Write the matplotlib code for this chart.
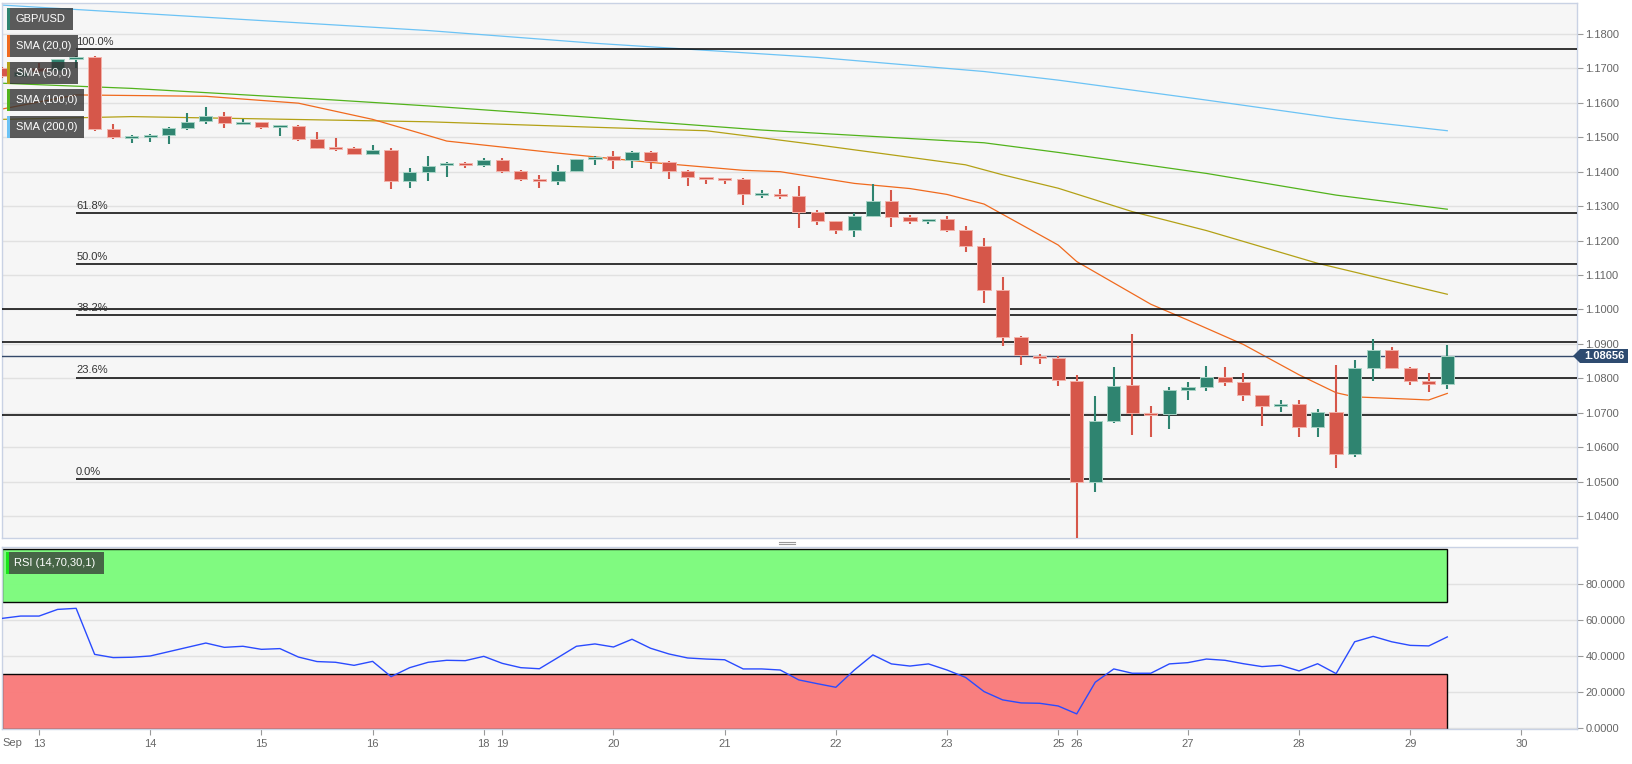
import matplotlib
matplotlib.use("Agg")
import matplotlib.pyplot as plt
from matplotlib.patches import Rectangle, Polygon
from matplotlib.lines import Line2D
import numpy as np

plt.rcParams['font.family'] = ['Liberation Sans', 'DejaVu Sans']

# 4h candles, index 0 = Sep 13 00:00 (weekend gaps removed)
idx = list(range(-2, 77))
opens = [1.1700, 1.1679, 1.1700, 1.1695, 1.1727, 1.1732, 1.1523, 1.1500, 1.1503, 1.1507,
         1.1526, 1.1546, 1.1563, 1.1541, 1.1544, 1.1532, 1.1534, 1.1494, 1.1471, 1.1470,
         1.1452, 1.1463, 1.1373, 1.1398, 1.1419, 1.1425, 1.1420, 1.1434, 1.1402, 1.1379,
         1.1372, 1.1402, 1.1436, 1.1446, 1.1434, 1.1458, 1.1427, 1.1402, 1.1384, 1.1380,
         1.1378, 1.1333, 1.1336, 1.1330, 1.1283, 1.1257, 1.1232, 1.1272, 1.1314, 1.1268,
         1.1258, 1.1263, 1.1231, 1.1183, 1.1056, 1.0920, 1.0865, 1.0859, 1.0793, 1.0499,
         1.0675, 1.0779, 1.0699, 1.0696, 1.0766, 1.0776, 1.0804, 1.0789, 1.0751, 1.0720,
         1.0725, 1.0658, 1.0701, 1.0580, 1.0830, 1.0883, 1.0831, 1.0791, 1.0783]
highs = [1.1705, 1.1700, 1.1715, 1.1728, 1.1736, 1.1736, 1.1539, 1.1507, 1.1510, 1.1531,
         1.1570, 1.1588, 1.1572, 1.1552, 1.1545, 1.1536, 1.1535, 1.1515, 1.1499, 1.1472,
         1.1478, 1.1468, 1.1411, 1.1446, 1.1427, 1.1428, 1.1441, 1.1439, 1.1405, 1.1390,
         1.1420, 1.1437, 1.1447, 1.1460, 1.1460, 1.1460, 1.1431, 1.1405, 1.1386, 1.1382,
         1.1382, 1.1347, 1.1350, 1.1357, 1.1289, 1.1258, 1.1279, 1.1364, 1.1347, 1.1274,
         1.1263, 1.1271, 1.1242, 1.1208, 1.1094, 1.0923, 1.0871, 1.0865, 1.0809, 1.0749,
         1.0833, 1.0929, 1.0720, 1.0774, 1.0788, 1.0836, 1.0833, 1.0815, 1.0752, 1.0737,
         1.0737, 1.0711, 1.0839, 1.0853, 1.0914, 1.0891, 1.0833, 1.0815, 1.0897]
lows = [1.1672, 1.1674, 1.1688, 1.1693, 1.1700, 1.1518, 1.1495, 1.1483, 1.1487, 1.1479,
        1.1520, 1.1538, 1.1526, 1.1539, 1.1523, 1.1505, 1.1488, 1.1467, 1.1461, 1.1450,
        1.1450, 1.1350, 1.1354, 1.1374, 1.1386, 1.1412, 1.1415, 1.1395, 1.1374, 1.1354,
        1.1361, 1.1399, 1.1420, 1.1408, 1.1412, 1.1408, 1.1379, 1.1357, 1.1364, 1.1364,
        1.1303, 1.1325, 1.1321, 1.1237, 1.1245, 1.1219, 1.1210, 1.1267, 1.1239, 1.1249,
        1.1248, 1.1224, 1.1167, 1.1020, 1.0895, 1.0839, 1.0842, 1.0778, 1.0337, 1.0471,
        1.0669, 1.0635, 1.0630, 1.0653, 1.0737, 1.0763, 1.0778, 1.0735, 1.0660, 1.0703,
        1.0630, 1.0630, 1.0538, 1.0572, 1.0793, 1.0827, 1.0781, 1.0761, 1.0769]
closes = [1.1678, 1.1690, 1.1693, 1.1727, 1.1731, 1.1524, 1.1500, 1.1503, 1.1506, 1.1527,
          1.1545, 1.1562, 1.1541, 1.1543, 1.1531, 1.1534, 1.1495, 1.1470, 1.1469, 1.1452,
          1.1463, 1.1373, 1.1399, 1.1417, 1.1424, 1.1422, 1.1433, 1.1402, 1.1380, 1.1374,
          1.1401, 1.1436, 1.1443, 1.1434, 1.1458, 1.1431, 1.1403, 1.1386, 1.1380, 1.1377,
          1.1336, 1.1336, 1.1330, 1.1283, 1.1257, 1.1232, 1.1272, 1.1314, 1.1268, 1.1258,
          1.1262, 1.1231, 1.1183, 1.1057, 1.0920, 1.0868, 1.0860, 1.0795, 1.0499, 1.0675,
          1.0778, 1.0700, 1.0696, 1.0766, 1.0776, 1.0804, 1.0789, 1.0751, 1.0719, 1.0725,
          1.0658, 1.0701, 1.0580, 1.0830, 1.0883, 1.0831, 1.0791, 1.0783, 1.08656]

# moving averages (read at selected candles)
sma20_x = [-2, 2, 9, 14, 18, 21, 22, 28, 30, 33, 38, 40, 44, 47, 49, 51, 55, 56, 60, 62, 65, 68, 70, 71, 75, 76]
sma20_y = [1.1582, 1.1623, 1.1619, 1.1599, 1.1552, 1.1505, 1.1489, 1.1454, 1.1443, 1.1427, 1.1404, 1.1400,
           1.1366, 1.1351, 1.1334, 1.1306, 1.1187, 1.1139, 1.1015, 1.0969, 1.0898, 1.0810, 1.0758, 1.0746,
           1.0737, 1.0756]
sma50_x = [-2, 5, 21, 30, 36, 42, 50, 52, 55, 59, 63, 69, 76]
sma50_y = [1.1552, 1.1560, 1.1545, 1.1529, 1.1519, 1.1478, 1.1420, 1.1391, 1.1352, 1.1284, 1.1229, 1.1134, 1.1044]
sma100_x = [-2, 5, 16, 21, 30, 39, 51, 55, 63, 70, 76]
sma100_y = [1.1657, 1.1642, 1.1608, 1.1591, 1.1557, 1.1521, 1.1484, 1.1456, 1.1395, 1.1332, 1.1291]
sma200_x = [-2, 21, 30, 42, 51, 55, 63, 70, 76]
sma200_y = [1.1884, 1.1810, 1.1773, 1.1732, 1.1691, 1.1666, 1.1608, 1.1555, 1.1519]

rsi = [60.9, 62.2, 62.2, 65.9, 66.5, 40.9, 39.1, 39.3, 40.0, 42.4, 44.8, 47.2, 44.8, 45.4, 43.7,
       44.1, 39.4, 36.9, 36.5, 34.8, 37.0, 28.5, 33.5, 36.5, 37.6, 37.4, 39.8, 35.9, 33.5, 32.9,
       39.1, 45.4, 46.7, 45.0, 49.3, 44.3, 41.1, 38.9, 38.3, 37.9, 32.8, 32.8, 32.2, 26.7, 24.6,
       22.6, 32.2, 40.6, 35.6, 34.4, 35.6, 32.2, 28.1, 20.2, 15.6, 13.9, 13.7, 12.2, 7.8, 25.4,
       32.8, 30.4, 30.4, 35.6, 36.3, 38.3, 37.6, 35.7, 34.1, 34.8, 31.7, 35.7, 30.2, 47.9, 50.9,
       47.9, 45.9, 45.6, 50.6]

fib_levels = [1.1756, 1.1279, 1.1131, 1.0984, 1.0802, 1.0507]
fib_labels = ['100.0%', '61.8%', '50.0%', '38.2%', '23.6%', '0.0%']
extra_levels = [1.1000, 1.0905, 1.0693]
last_price = 1.08656

day_pos = [0, 6, 12, 18, 24, 25, 31, 37, 43, 49, 55, 56, 62, 68, 74, 80]
day_labels = ['13', '14', '15', '16', '18', '19', '20', '21', '22', '23', '25', '26', '27', '28', '29', '30']

legend_names = ['GBP/USD', 'SMA (20,0)', 'SMA (50,0)', 'SMA (100,0)', 'SMA (200,0)']
legend_colors = ['#2f8470', '#f06a1e', '#b3a116', '#52b31c', '#6cc3f5']

W, H = 1633, 764
fig = plt.figure(figsize=(W / 100, H / 100), dpi=100)
fig.patch.set_facecolor('white')

ax = fig.add_axes([2 / W, 1 - 538 / H, 1575 / W, 535 / H])
ax2 = fig.add_axes([2 / W, 1 - 729 / H, 1575 / W, 182 / H], sharex=ax)

border = '#c9d2e4'
for a in (ax, ax2):
    a.set_facecolor('#f6f6f6')
    for s in a.spines.values():
        s.set_color(border)
        s.set_linewidth(1.0)

# price panel
ax.set_xlim(-2.0, 83.0)
ax.set_ylim(1.0336, 1.1890)
ax.yaxis.tick_right()
ax.set_yticks(np.arange(1.04, 1.1801, 0.01))
ax.yaxis.set_major_formatter(matplotlib.ticker.FormatStrFormatter('%.4f'))
ax.tick_params(axis='y', length=4, color='#999999', labelcolor='#666666', labelsize=8, pad=2)
ax.tick_params(axis='x', bottom=False, labelbottom=False)
ax.grid(axis='y', color='#e1e1e1', linewidth=1.0)
ax.set_axisbelow(True)

# moving averages
ax.plot(sma200_x, sma200_y, color=legend_colors[4], lw=0.9, zorder=2)
ax.plot(sma100_x, sma100_y, color=legend_colors[3], lw=0.9, zorder=2)
ax.plot(sma50_x, sma50_y, color=legend_colors[2], lw=0.9, zorder=2)
ax.plot(sma20_x, sma20_y, color=legend_colors[1], lw=0.9, zorder=2)

# horizontal levels
for lv in extra_levels:
    ax.axhline(lv, color='black', lw=1.1, zorder=3)
for lv, lab in zip(fib_levels, fib_labels):
    ax.hlines(lv, 2.0, 83.0, color='black', lw=1.1, zorder=3)
    ax.annotate(lab, (2.0, lv), xytext=(0, 1.5), textcoords='offset points',
                fontsize=8, color='#333333', va='bottom', ha='left', zorder=3)
ax.axhline(last_price, color='#34496a', lw=1.0, zorder=3)

# candles
up_c, dn_c = '#2f8470', '#d6574a'
for i, o, h, l, c in zip(idx, opens, highs, lows, closes):
    col = up_c if c >= o else dn_c
    edge = '#a6d2c4' if c >= o else '#f3b2aa'
    ax.vlines(i, l, h, color=col, lw=1.5, zorder=4)
    body = max(abs(c - o), 0.0006)
    bot = min(o, c) if abs(c - o) >= 0.0006 else (o + c) / 2 - 0.0003
    ax.add_patch(Rectangle((i - 0.36, bot), 0.72, body, facecolor=col,
                           edgecolor=edge, lw=0.7, zorder=5))

# RSI panel
ax2.set_ylim(-0.6, 100.6)
ax2.yaxis.tick_right()
ax2.set_yticks([0, 20, 40, 60, 80])
ax2.set_yticklabels(['0.0000', '20.0000', '40.0000', '60.0000', '80.0000'])
ax2.tick_params(axis='y', length=4, color='#999999', labelcolor='#666666', labelsize=8, pad=2)
ax2.grid(axis='y', color='#e1e1e1', linewidth=1.0)
ax2.set_axisbelow(True)
ax2.add_patch(Rectangle((-2.0, 70), 78.0, 29.5, facecolor='#7cfb7c', edgecolor='black',
                        lw=1.0, alpha=0.97, zorder=2))
ax2.add_patch(Rectangle((-2.0, -0.6), 78.0, 30.6, facecolor='#fa7b7b', edgecolor='black',
                        lw=1.0, alpha=0.97, zorder=2))
ax2.plot(idx, rsi, color='#2a4bff', lw=1.0, zorder=4)

ax2.set_xticks(day_pos)
ax2.set_xticklabels(day_labels)
ax2.tick_params(axis='x', length=4, color='#999999', labelcolor='#666666', labelsize=8, pad=3)
ax2.text(-1.45, -0.075, 'Sep', transform=ax2.get_xaxis_transform(), ha='center', va='center',
         fontsize=8, color='#666666')

# legend boxes (pixel positions)
def px_rect(x0, y0, w, h, **kw):
    fig.patches.append(Rectangle((x0 / W, 1 - (y0 + h) / H), w / W, h / H,
                                 transform=fig.transFigure, **kw))

box_w = [66, 71, 71, 77, 77]
for k, (name, col) in enumerate(zip(legend_names, legend_colors)):
    y0 = 8 + 27 * k
    px_rect(7, y0, box_w[k], 22, facecolor='#333333', alpha=0.8, edgecolor='none', zorder=10)
    px_rect(7, y0, 3, 22, facecolor=col, edgecolor='none', zorder=11)
    fig.text(16 / W, 1 - (y0 + 11) / H, name, color='white', fontsize=8, va='center',
             ha='left', zorder=12)

px_rect(6, 552, 98, 22, facecolor='#333333', alpha=0.75, edgecolor='none', zorder=10)
px_rect(6, 552, 3, 22, facecolor='#1be61b', edgecolor='none', zorder=11)
fig.text(14 / W, 1 - 563 / H, 'RSI (14,70,30,1)', color='white', fontsize=8, va='center',
         ha='left', zorder=12)

# last price tag
yp = 356
tag = Polygon([(1573 / W, 1 - yp / H), (1580 / W, 1 - (yp - 7) / H), (1628 / W, 1 - (yp - 7) / H),
               (1628 / W, 1 - (yp + 7) / H), (1580 / W, 1 - (yp + 7) / H)],
              closed=True, transform=fig.transFigure, facecolor='#2e4b70', edgecolor='none', zorder=10)
fig.patches.append(tag)
fig.text(1604 / W, 1 - yp / H, f'{last_price:.5f}', color='white', fontsize=8, fontweight='bold',
         ha='center', va='center', zorder=11)

# panel splitter handle
for dy in (541.5, 543.5):
    fig.add_artist(Line2D([779 / W, 795 / W], [1 - dy / H, 1 - dy / H], color='#999999', lw=0.8))

fig.savefig('out.png', dpi=100, facecolor='white')
